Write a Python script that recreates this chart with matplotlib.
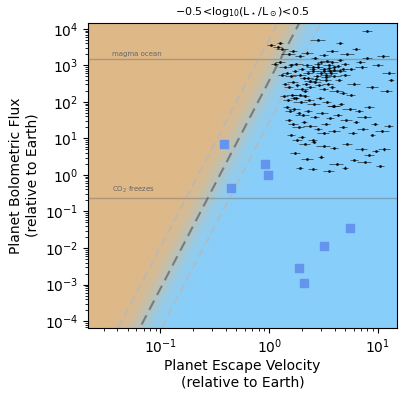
import numpy as np
import matplotlib
matplotlib.use("Agg")
import matplotlib.pyplot as plt
from matplotlib.colors import LinearSegmentedColormap

# Solar-system-like bodies (blue squares)
ss_vesc = [0.38, 0.91, 0.97, 0.45, 5.5, 3.2, 1.9, 2.1]
ss_flux = [7.0, 2.0, 1.0, 0.45, 0.036, 0.011, 0.0028, 0.0011]

# Exoplanets (log10 escape velocity, log10 flux)
exo_logv = [0.02, 0.08, 0.12, 0.10, 0.18, 0.22, 0.28, 0.35, 0.42, 0.50, 0.58, 0.65, 0.72, 0.80, 0.90, 1.05,
            0.05, 0.10, 0.15, 0.20, 0.25, 0.30, 0.35, 0.40, 0.45, 0.50, 0.55, 0.60, 0.65, 0.70, 0.75, 0.85,
            0.12, 0.16, 0.20, 0.24, 0.28, 0.32, 0.36, 0.40, 0.44, 0.48, 0.52, 0.56, 0.60, 0.64, 0.70, 0.78,
            0.15, 0.18, 0.22, 0.26, 0.30, 0.34, 0.38, 0.42, 0.46, 0.50, 0.54, 0.58, 0.62, 0.68, 0.75, 0.95,
            0.14, 0.17, 0.21, 0.25, 0.29, 0.33, 0.37, 0.41, 0.47, 0.53, 0.59, 0.66, 0.74, 0.83, 0.92, 1.08,
            0.16, 0.19, 0.23, 0.27, 0.31, 0.36, 0.42, 0.49, 0.56, 0.63, 0.71, 0.80, 0.88, 0.97, 1.10, 0.60,
            0.18, 0.22, 0.27, 0.32, 0.38, 0.45, 0.52, 0.60, 0.68, 0.77, 0.86, 0.95, 1.04, 0.30, 0.40, 0.50,
            0.20, 0.26, 0.33, 0.41, 0.50, 0.60, 0.72, 0.85, 0.98, 0.24, 0.35, 0.48, 0.62, 0.78, 0.92, 1.06,
            0.28, 0.40, 0.55, 0.70, 0.88, 1.02, 0.36, 0.52, 0.68, 0.84, 1.00, 1.12, 0.45, 0.65, 0.90, 1.10,
            0.40, 0.45, 0.50, 0.55, 0.60, 0.48, 0.53, 0.58, 0.63, 0.43, 0.38, 0.33, 0.28, 0.23, 0.52, 0.57]
exo_logF = [3.55, 3.50, 3.45, 3.62, 3.30, 3.40, 3.25, 3.35, 3.20, 3.28, 3.38, 3.15, 3.30, 3.45, 3.20, 3.25,
            3.05, 3.10, 2.95, 3.00, 3.05, 2.90, 3.00, 2.95, 3.05, 2.90, 3.00, 2.95, 2.85, 3.05, 2.90, 2.95,
            2.75, 2.80, 2.70, 2.85, 2.75, 2.65, 2.80, 2.85, 2.70, 2.80, 2.75, 2.85, 2.70, 2.60, 2.75, 2.50,
            2.50, 2.40, 2.55, 2.45, 2.35, 2.50, 2.40, 2.55, 2.45, 2.35, 2.50, 2.40, 2.30, 2.25, 2.20, 2.40,
            2.15, 2.05, 2.20, 2.10, 2.00, 2.15, 2.05, 1.95, 2.10, 2.00, 1.90, 1.95, 1.80, 1.75, 1.85, 2.30,
            1.85, 1.75, 1.80, 1.70, 1.65, 1.75, 1.60, 1.70, 1.55, 1.65, 1.50, 1.45, 1.60, 1.40, 1.35, 1.90,
            1.50, 1.40, 1.30, 1.45, 1.35, 1.25, 1.40, 1.20, 1.30, 1.15, 1.25, 1.10, 1.20, 1.05, 0.95, 1.15,
            1.10, 0.95, 0.85, 0.90, 0.80, 0.75, 0.85, 0.70, 0.65, 0.60, 0.45, 0.50, 0.30, 0.40, 0.55, 0.70,
            0.20, 0.15, 0.10, 0.20, 0.35, 0.25, 2.65, 2.60, 2.90, 3.10, 3.00, 2.60, 3.70, 3.60, 3.95, 2.80,
            2.90, 2.95, 2.85, 2.92, 2.88, 3.10, 3.12, 3.08, 2.98, 2.62, 2.58, 2.30, 2.20, 2.10, 2.68, 2.78]
exo_verr = [0.08, 0.10, 0.12, 0.06, 0.15, 0.08, 0.10, 0.13]
exo_ferr = [0.04, 0.06, 0.03, 0.08]

slope = 5.69
icpt = -4.0 + 5.69 * 1.157  # log F at log v = 0

fig = plt.figure(figsize=(4, 4), dpi=100)
ax = fig.add_axes([0.22, 0.18, 0.7725, 0.7625])
ax.set_xscale('log'); ax.set_yscale('log')
xlo, xhi = 10**-1.667, 10**1.176
ylo, yhi = 10**-4.19, 10**4.16

lx = np.linspace(-1.667, 1.176, 400)
ly = np.linspace(-4.19, 4.16, 400)
LX, LY = np.meshgrid(lx, ly)
shore_x = (LY - icpt) / slope
d = LX - shore_x
t = 1 / (1 + np.exp(-d / 0.07))
cmap = LinearSegmentedColormap.from_list('sh', ['#deb887', '#87cefa'])
ax.pcolormesh(10**lx, 10**ly, t, cmap=cmap, shading='auto', rasterized=True, zorder=0)

yy = np.array([-4.5, 4.5])
for off, c in [(0, '0.45'), (-0.2, '0.72'), (0.2, '0.72')]:
    ax.plot(10**((yy - icpt) / slope + off), 10**yy, ls='--', color=c, lw=1.5 if off == 0 else 1.2,
            dashes=(5, 3), alpha=0.9, zorder=1)

for yv, lab in [(1450, 'magma ocean'), (0.23, 'CO$_2$ freezes')]:
    ax.axhline(yv, color='0.4', lw=1, alpha=0.4, zorder=1)
    ax.text(0.036, yv * 1.2, lab, fontsize=5, color='0.4', va='bottom')

vx = 10**np.array(exo_logv)
fy = 10**np.array(exo_logF)
n = len(vx)
xe = np.array([exo_verr[i % len(exo_verr)] for i in range(n)]) * vx
ye = np.array([exo_ferr[i % len(exo_ferr)] for i in range(n)]) * fy
ax.errorbar(vx, fy, xerr=xe, yerr=ye, fmt='o', ms=1.1, color='black', ecolor='black',
            elinewidth=0.5, alpha=0.75, zorder=3)

ax.scatter(ss_vesc, ss_flux, marker='s', s=30, color='#6495ed', zorder=4)

ax.set_xlim(xlo, xhi); ax.set_ylim(ylo, yhi)
ax.set_xlabel('Planet Escape Velocity\n(relative to Earth)', fontsize=10, labelpad=2)
ax.set_ylabel('Planet Bolometric Flux\n(relative to Earth)', fontsize=10)
ax.set_title(r'$-0.5$<log$_{10}$(L$_\star$/L$_\odot$)<0.5', fontsize=8)
ax.tick_params(labelsize=10)
fig.savefig('out.png', dpi=100)
